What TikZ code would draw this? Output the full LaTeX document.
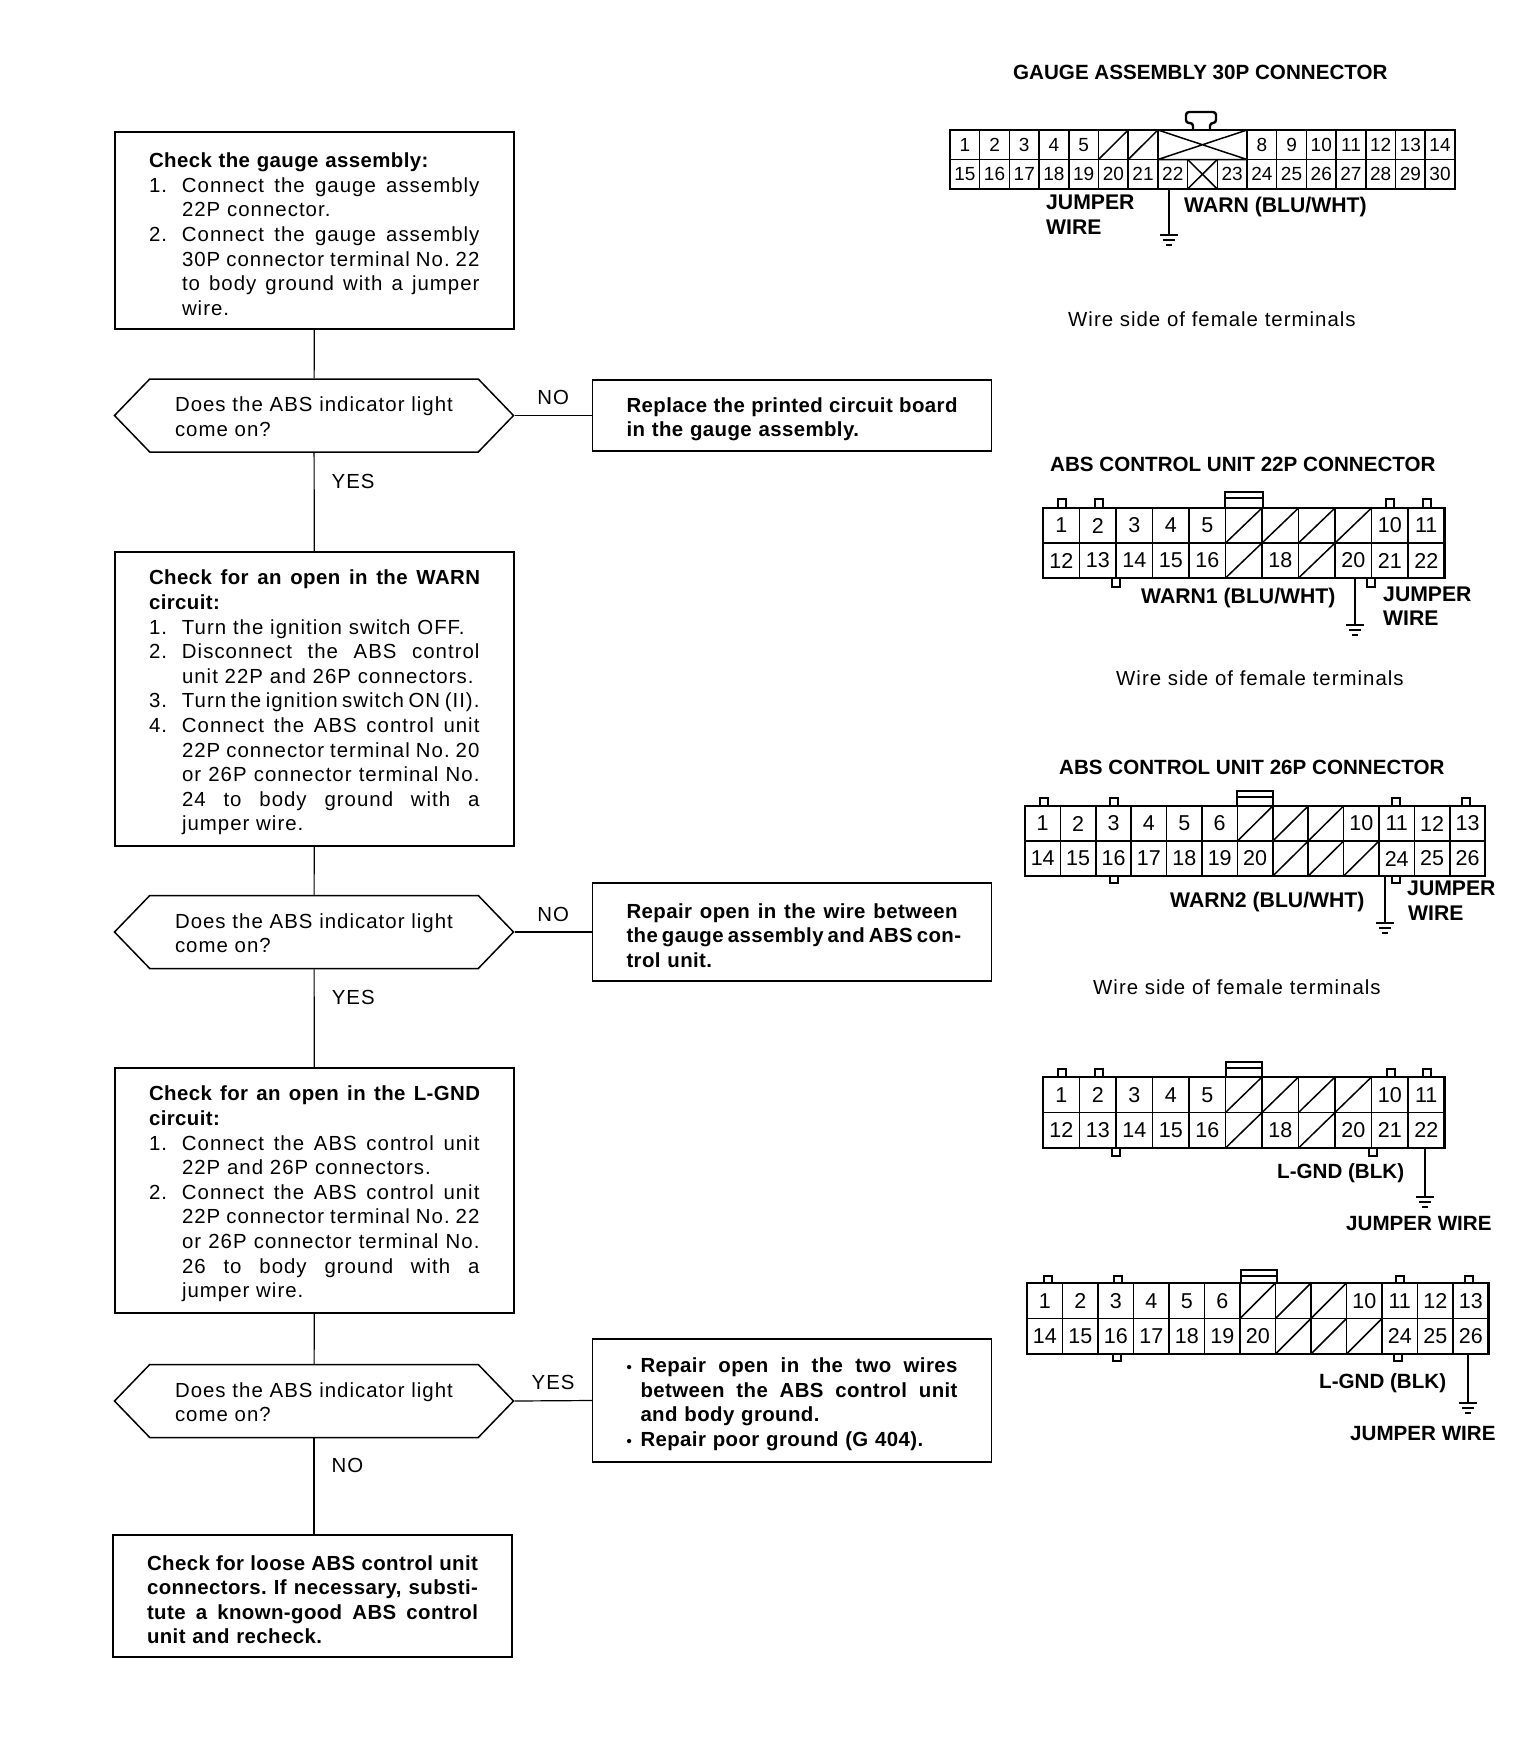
\documentclass[tikz,border=0pt]{standalone}
\usepackage{fontspec}
\setmainfont[LetterSpace=5,BoldFeatures={LetterSpace=2}]{Liberation Sans}
\newfontfamily\capfamily{Liberation Sans}
\usetikzlibrary{shapes.symbols}
\newcommand{\bodyfont}{\fontsize{20.4}{24.6}\selectfont}
\newcommand{\capfont}{\capfamily\bfseries\fontsize{20.6}{22}\selectfont}
\newcommand{\wirefont}{\capfamily\bfseries\fontsize{21.2}{22}\selectfont}
\newcommand{\jl}[2]{\makebox[#1pt][s]{\spaceskip=.3em plus 1em minus .1em\xspaceskip=\spaceskip #2}}
\newcommand{\numl}[1]{\makebox[33pt][l]{#1}}
\newcommand{\bul}{\makebox[14pt][l]{\fontsize{15}{15}\selectfont •}}
\newcommand{\pincells}[6]{\foreach \c/\n in {#6}{\node[pinbox,minimum width=#4pt,minimum height=#5pt] (#1-\n) at ({#2+(\c+.5)*#4},{#3+.5*#5}) {\n};}}
\newcommand{\blankcells}[5]{\foreach \c in {#5}{\draw[cellline] ({#1+\c*#3},#2) rectangle +(#3,#4); \draw[cellline] ({#1+\c*#3},{#2+#4}) -- +(#3,-#4);}}
\newcommand{\tabmarks}[3]{\foreach \x in {#3}{\draw[edgeline] (\x,#1) -- +(0,#2) -- +(8,#2) -- +(8,0);}}
\newcommand{\keymark}[4]{\draw[edgeline] (#1,#3) rectangle (#2,#4) (#1,#3+6) -- (#2,#3+6);}
\tikzset{gndsym/.pic={\draw[cellline] (-9,0) -- (9,0) (-6,5) -- (6,5) (-3,10) -- (3,10);}}
\begin{document}
\frenchspacing
\begin{tikzpicture}[x=1pt,y=-1pt,
  stepbox/.style={draw,line width=1.5pt,font=\bodyfont,align=left,text width=331pt,minimum width=399pt,inner sep=0pt,execute at begin node={\leavevmode\rule{0pt}{22pt}}},
  askbox/.style={draw,line width=1.5pt,font=\bodyfont,align=left,text width=278pt,shape=signal,signal to=west and east,signal pointer angle=92,minimum width=399pt,minimum height=73pt,inner sep=0pt,execute at begin node={\leavevmode\rule{0pt}{17pt}}},
  flowline/.style={line width=1.2pt},
  lbl/.style={font=\bodyfont,inner sep=0pt},
  capnote/.style={font=\capfont,inner sep=0pt,anchor=west},
  wirenote/.style={font=\wirefont,inner sep=0pt,anchor=west},
  sidenote/.style={font=\bodyfont,inner sep=0pt,anchor=west},
  pinbox/.style={draw,line width=1.5pt,inner sep=0pt,font=\capfamily\fontsize{21.5}{22}\selectfont},
  cellline/.style={line width=1.5pt},
  edgeline/.style={line width=2.4pt},
  wireline/.style={line width=1.5pt}]
\useasboundingbox (0,0) rectangle (1536,1754);
\node[stepbox,minimum height=197pt] (chk1) at (314.5,230.5) {\textbf{Check the gauge assembly:}\\
\numl{1.}\jl{297.5}{Connect the gauge assembly}\\
\numl{}22P connector.\\
\numl{2.}\jl{297.5}{Connect the gauge assembly}\\
\numl{}\jl{297.5}{30P connector terminal No. 22}\\
\numl{}\jl{297.5}{to body ground with a jumper}\\
\numl{}wire.};
\node[askbox] (ask1) at (314,415.5) {Does the ABS indicator light\\come on?};
\node[stepbox,minimum height=71pt] (fix1) at (792,415.5) {\bfseries\jl{331}{Replace the printed circuit board}\\in the gauge assembly.};
\node[stepbox,minimum height=294pt] (chk2) at (314.5,699) {\bfseries\jl{331}{Check for an open in the WARN}\\circuit:\\\mdseries
\numl{1.}Turn the ignition switch OFF.\\
\numl{2.}\jl{297.5}{Disconnect the ABS control}\\
\numl{}unit 22P and 26P connectors.\\
\numl{3.}\jl{297.5}{Turn the ignition switch ON (II).}\\
\numl{4.}\jl{297.5}{Connect the ABS control unit}\\
\numl{}\jl{297.5}{22P connector terminal No. 20}\\
\numl{}\jl{297.5}{or 26P connector terminal No.}\\
\numl{}\jl{297.5}{24 to body ground with a}\\
\numl{}jumper wire.};
\node[askbox] (ask2) at (314,932) {Does the ABS indicator light\\come on?};
\node[stepbox,minimum height=98pt] (fix2) at (792,932) {\bfseries\jl{331}{Repair open in the wire between}\\\jl{331}{the gauge assembly and ABS con-}\\trol unit.};
\node[stepbox,minimum height=245pt] (chk3) at (314.5,1190.5) {\bfseries\jl{331}{Check for an open in the L-GND}\\circuit:\\\mdseries
\numl{1.}\jl{297.5}{Connect the ABS control unit}\\
\numl{}22P and 26P connectors.\\
\numl{2.}\jl{297.5}{Connect the ABS control unit}\\
\numl{}\jl{297.5}{22P connector terminal No. 22}\\
\numl{}\jl{297.5}{or 26P connector terminal No.}\\
\numl{}\jl{297.5}{26 to body ground with a}\\
\numl{}jumper wire.};
\node[askbox] (ask3) at (314,1401) {Does the ABS indicator light\\come on?};
\node[stepbox,minimum height=123pt] (fix3) at (792,1400.5) {\bfseries\bul\jl{317}{Repair open in the two wires}\\
\makebox[14pt][l]{}\jl{317}{between the ABS control unit}\\
\makebox[14pt][l]{}and body ground.\\
\bul Repair poor ground (G 404).};
\node[stepbox,minimum height=122pt] (chk4) at (312.5,1596) {\bfseries\jl{331}{Check for loose ABS control unit}\\\jl{331}{connectors. If necessary, substi-}\\\jl{331}{tute a known-good ABS control}\\unit and recheck.};
\draw[flowline] (chk1) -- (ask1);
\draw[flowline] (ask1.east) -- (fix1.west) node[midway,above=10pt,lbl]{NO};
\draw[flowline] (ask1) -- (chk2) node[pos=.29,right=17pt,lbl]{YES};
\draw[flowline] (chk2) -- (ask2);
\draw[flowline] (ask2.east) -- (fix2.west) node[midway,above=10pt,lbl]{NO};
\draw[flowline] (ask2) -- (chk3) node[pos=.29,right=17pt,lbl]{YES};
\draw[flowline] (chk3) -- (ask3);
\draw[flowline] (ask3.east) -- (fix3.west) node[midway,above=10pt,lbl]{YES};
\draw[flowline] (ask3.south) -- (ask3.south |- chk4.north) node[pos=.28,right=17pt,lbl]{NO};

\node[capnote] (t30) at (1013,72) {GAUGE ASSEMBLY 30P CONNECTOR};
\begin{scope}[pinbox/.append style={font=\capfamily\fontsize{19}{20}\selectfont}]
\pincells{g}{950}{130}{29.7}{29.5}{0/1,1/2,2/3,3/4,4/5,10/8,11/9,12/10,13/11,14/12,15/13,16/14}
\pincells{g}{950}{159.5}{29.7}{29.5}{0/15,1/16,2/17,3/18,4/19,5/20,6/21,7/22,9/23,10/24,11/25,12/26,13/27,14/28,15/29,16/30}
\end{scope}
\blankcells{950}{130}{29.7}{29.5}{5,6}
\blankcells{950}{159.5}{29.7}{29.5}{8}
\draw[cellline] (950+8*29.7,159.5) -- +(29.7,29.5);
\draw[cellline] (1157.9,130) rectangle (1247,159.5) (1157.9,130) -- (1247,159.5) (1157.9,159.5) -- (1247,130);
\draw[edgeline] (950,130) rectangle (1455,189);
\draw[edgeline,rounded corners=3pt] (1193,130) -- (1193,123) -- (1186,123) -- (1186,112) -- (1216,112) -- (1216,123) -- (1210,123) -- (1210,130);
\coordinate (gnd30) at (1169,235);
\draw[wireline] (gnd30 |- g-22.south) -- (gnd30);
\pic at (gnd30) {gndsym};
\node[wirenote] (j30a) at (1046,202) {JUMPER};
\node[wirenote] (j30b) at (1046,227) {WIRE};
\node[wirenote] (w30) at (1184,207) {WARN (BLU/WHT)};
\node[sidenote] (s30) at (1068,319) {Wire side of female terminals};

\node[capnote] (t22) at (1050,464) {ABS CONTROL UNIT 22P CONNECTOR};
\pincells{a}{1043}{508}{36.5}{35}{0/1,1/2,2/3,3/4,4/5,9/10,10/11}
\pincells{a}{1043}{543}{36.5}{35}{0/12,1/13,2/14,3/15,4/16,6/18,8/20,9/21,10/22}
\blankcells{1043}{508}{36.5}{35}{5,6,7,8}
\blankcells{1043}{543}{36.5}{35}{5,7}
\draw[edgeline] (1043,508) rectangle (1444.5,578);
\tabmarks{508}{-9}{1058,1095,1386,1423}
\tabmarks{578}{9}{1112,1367}
\keymark{1225}{1263}{492}{508}
\coordinate (gnd22) at (1355,625);
\draw[wireline] (gnd22 |- a-20.south) -- (gnd22);
\pic at (gnd22) {gndsym};
\node[wirenote] (w22) at (1141,598) {WARN1 (BLU/WHT)};
\node[wirenote] (j22a) at (1383,594) {JUMPER};
\node[wirenote] (j22b) at (1383,618) {WIRE};
\node[sidenote] (s22) at (1116,678) {Wire side of female terminals};

\node[capnote] (t26) at (1059,767) {ABS CONTROL UNIT 26P CONNECTOR};
\pincells{b}{1025}{806}{35.4}{35}{0/1,1/2,2/3,3/4,4/5,5/6,9/10,10/11,11/12,12/13}
\pincells{b}{1025}{841}{35.4}{35}{0/14,1/15,2/16,3/17,4/18,5/19,6/20,10/24,11/25,12/26}
\blankcells{1025}{806}{35.4}{35}{6,7,8}
\blankcells{1025}{841}{35.4}{35}{7,8,9}
\draw[edgeline] (1025,806) rectangle (1485,876);
\tabmarks{806}{-8}{1040,1110,1392,1462}
\tabmarks{876}{7}{1110,1392}
\keymark{1237}{1273}{791}{806}
\coordinate (gnd26) at (1385,923);
\draw[wireline] (gnd26 |- b-24.south) -- (gnd26);
\pic at (gnd26) {gndsym};
\node[wirenote] (w26) at (1170,902) {WARN2 (BLU/WHT)};
\node[wirenote] (j26a) at (1407,888) {JUMPER};
\node[wirenote] (j26b) at (1408,913) {WIRE};
\node[sidenote] (s26) at (1093,987) {Wire side of female terminals};

\pincells{c}{1043}{1077}{36.5}{35.5}{0/1,1/2,2/3,3/4,4/5,9/10,10/11}
\pincells{c}{1043}{1112.5}{36.5}{35.5}{0/12,1/13,2/14,3/15,4/16,6/18,8/20,9/21,10/22}
\blankcells{1043}{1077}{36.5}{35.5}{5,6,7,8}
\blankcells{1043}{1112.5}{36.5}{35.5}{5,7}
\draw[edgeline] (1043,1077) rectangle (1444.5,1148);
\tabmarks{1077}{-8}{1058,1095,1387,1423}
\tabmarks{1148}{8}{1112,1369}
\keymark{1226}{1262}{1062}{1077}
\coordinate (gnd22b) at (1425,1197);
\draw[wireline] (gnd22b |- c-22.south) -- (gnd22b);
\pic at (gnd22b) {gndsym};
\node[capnote] (l22) at (1277,1173) {L-GND (BLK)};
\node[capnote] (j22c) at (1346,1223) {JUMPER WIRE};

\pincells{d}{1027}{1283}{35.5}{35.5}{0/1,1/2,2/3,3/4,4/5,5/6,9/10,10/11,11/12,12/13}
\pincells{d}{1027}{1318.5}{35.5}{35.5}{0/14,1/15,2/16,3/17,4/18,5/19,6/20,10/24,11/25,12/26}
\blankcells{1027}{1283}{35.5}{35.5}{6,7,8}
\blankcells{1027}{1318.5}{35.5}{35.5}{7,8,9}
\draw[edgeline] (1027,1283) rectangle (1488.5,1354);
\tabmarks{1283}{-7}{1044,1114,1396,1465}
\tabmarks{1354}{7}{1113,1394}
\keymark{1241}{1277}{1270}{1283}
\coordinate (gnd26b) at (1468,1403);
\draw[wireline] (gnd26b |- d-26.south) -- (gnd26b);
\pic at (gnd26b) {gndsym};
\node[capnote] (l26) at (1319,1383) {L-GND (BLK)};
\node[capnote] (j26c) at (1350,1433) {JUMPER WIRE};
\end{tikzpicture}
\end{document}
